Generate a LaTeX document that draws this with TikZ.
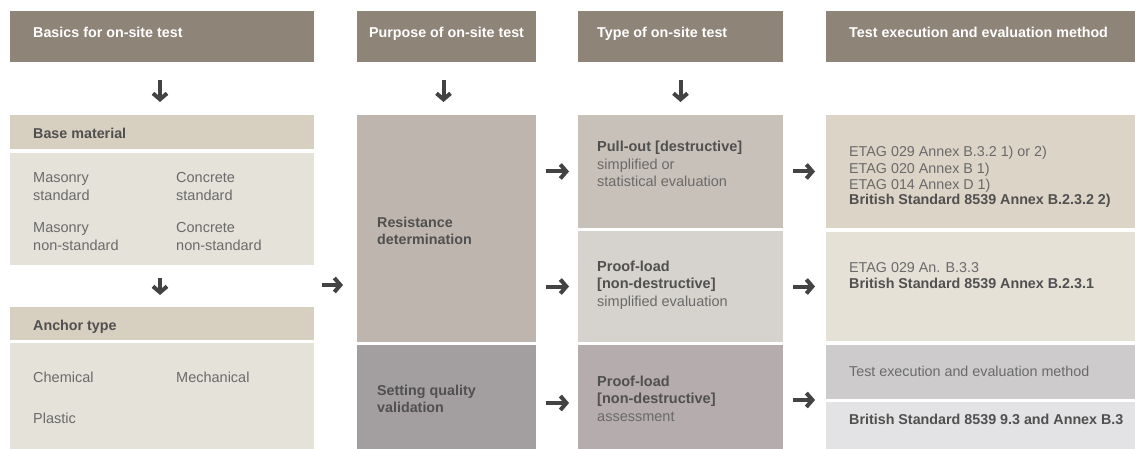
\documentclass[tikz,border=0pt]{standalone}
\usepackage{fontspec}
\setmainfont{Liberation Sans}
\usetikzlibrary{arrows.meta}
\definecolor{hdrc}{HTML}{8E8478}
\definecolor{sandc}{HTML}{D7CFC0}
\definecolor{palec}{HTML}{E5E2DA}
\definecolor{resc}{HTML}{BDB5AE}
\definecolor{sqc}{HTML}{A39EA0}
\definecolor{pullc}{HTML}{C8C1B9}
\definecolor{plac}{HTML}{D6D3CE}
\definecolor{plbc}{HTML}{B4ACAD}
\definecolor{eac}{HTML}{DCD4C7}
\definecolor{ebc}{HTML}{E5E1D7}
\definecolor{ecc}{HTML}{CDCBCB}
\definecolor{edc}{HTML}{E3E2E4}
\definecolor{txtc}{HTML}{6A6A6A}
\definecolor{boldc}{HTML}{505050}
\definecolor{arrc}{HTML}{434343}
\begin{document}
\begin{tikzpicture}[x=1pt,y=-1pt,
  cell/.style={rectangle, inner sep=0pt, outer sep=0pt, anchor=north west, draw=none},
  hd/.style={anchor=base west, inner sep=0pt, font=\bfseries\fontsize{14.3}{17}\selectfont, text=white},
  tx/.style={anchor=base west, inner sep=0pt, font=\fontsize{14.5}{17.5}\selectfont, text=txtc, align=left},
  tb/.style={tx, font=\bfseries\fontsize{14.3}{17.5}\selectfont, text=boldc},
  te/.style={tx, font=\fontsize{14.3}{16}\selectfont},
  arr/.style={draw=arrc, line width=4pt, -{Straight Barb[length=6pt,width=14pt]}},
]
\useasboundingbox (0,0) rectangle (1135,449);
\fill[white] (0,0) rectangle (1135,449);

% headers
\node[cell, fill=hdrc, minimum width=304pt, minimum height=51pt] (h1) at (10,11) {};
\node[cell, fill=hdrc, minimum width=179pt, minimum height=51pt] (h2) at (357,11) {};
\node[cell, fill=hdrc, minimum width=205pt, minimum height=51pt] (h3) at (578,11) {};
\node[cell, fill=hdrc, minimum width=309pt, minimum height=51pt] (h4) at (826,11) {};
\node[hd] (h1t) at (33,38) {Basics for on-site test};
\node[hd, anchor=base] (h2t) at (446.5,38) {Purpose of on-site test};
\node[hd] (h3t) at (597,38) {Type of on-site test};
\node[hd] (h4t) at (849,38) {Test execution and evaluation method};

% column 1
\node[cell, fill=sandc, minimum width=304pt, minimum height=34pt] (bmh) at (10,115) {};
\node[cell, fill=palec, minimum width=304pt, minimum height=112pt] (bmb) at (10,153) {};
\node[cell, fill=sandc, minimum width=304pt, minimum height=33pt] (ath) at (10,307) {};
\node[cell, fill=palec, minimum width=304pt, minimum height=106pt] (atb) at (10,343) {};
\node[tb] (bmht) at (33,139) {Base material};
\node[tx] (ms) at (33,200.5) {Masonry\\standard};
\node[tx] (cs) at (176,200.5) {Concrete\\standard};
\node[tx] (mn) at (33,250.5) {Masonry\\non-standard};
\node[tx] (cn) at (176,250.5) {Concrete\\non-standard};
\node[tb] (atht) at (33,330) {Anchor type};
\node[tx] (chem) at (33,382) {Chemical};
\node[tx] (mech) at (176,382) {Mechanical};
\node[tx] (plas) at (33,423) {Plastic};

% column 2
\node[cell, fill=resc, minimum width=179pt, minimum height=227pt] (res) at (357,115) {};
\node[cell, fill=sqc, minimum width=179pt, minimum height=104pt] (sq) at (357,345) {};
\node[tb] (rest) at (377,244.5) {Resistance\\determination};
\node[tb] (sqt) at (377,412.5) {Setting quality\\validation};

% column 3
\node[cell, fill=pullc, minimum width=205pt, minimum height=113pt] (pull) at (578,115) {};
\node[cell, fill=plac, minimum width=205pt, minimum height=111pt] (pl1) at (578,231) {};
\node[cell, fill=plbc, minimum width=205pt, minimum height=104pt] (pl2) at (578,345) {};
\node[tx] (pullt) at (597,187) {\textbf{\color{boldc}Pull-out [destructive]}\\simplified or\\statistical evaluation};
\node[tx] (pl1t) at (597,306) {\textbf{\color{boldc}Proof-load}\\\textbf{\color{boldc}[non-destructive]}\\simplified evaluation};
\node[tx] (pl2t) at (597,421) {\textbf{\color{boldc}Proof-load}\\\textbf{\color{boldc}[non-destructive]}\\assessment};

% column 4
\node[cell, fill=eac, minimum width=309pt, minimum height=113pt] (e1) at (826,115) {};
\node[cell, fill=ebc, minimum width=309pt, minimum height=109pt] (e2) at (826,232) {};
\node[cell, fill=ecc, minimum width=309pt, minimum height=54pt] (e3) at (826,345) {};
\node[cell, fill=edc, minimum width=309pt, minimum height=47pt] (e4) at (826,402) {};
\node[te] (e1t) at (849,205) {ETAG 029 Annex B.3.2 1) or 2)\\ETAG 020 Annex B 1)\\ETAG 014 Annex D 1)\\\textbf{\color{boldc}British Standard 8539 Annex B.2.3.2 2)}};
\node[te] (e2t) at (849,288) {ETAG 029 An. B.3.3\\\textbf{\color{boldc}British Standard 8539 Annex B.2.3.1}};
\node[te] (e3t) at (849,376) {Test execution and evaluation method};
\node[te, font=\bfseries\fontsize{14.3}{16}\selectfont, text=boldc] (e4t) at (849,424) {British Standard 8539 9.3 and Annex B.3};

% vertical arrows
\draw[arr, shorten <=18pt, shorten >=13pt] ([xshift=-2pt]h1.south) -- ([xshift=-2pt]bmh.north);
\draw[arr, shorten <=13pt, shorten >=12pt] ([xshift=-2pt]bmb.south) -- ([xshift=-2pt]ath.north);
\draw[arr, shorten <=18pt, shorten >=13pt] ([xshift=-3pt]h2.south) -- ([xshift=-3pt]res.north);
\draw[arr, shorten <=18pt, shorten >=13pt] (h3.south) -- (pull.north);

% horizontal arrows
\coordinate (c12) at (314,285);
\draw[arr, shorten <=8pt, shorten >=14pt] (c12) -- (c12 -| res.west);
\draw[arr, shorten <=10pt, shorten >=9pt] (pull.west -| res.east) -- (pull.west);
\draw[arr, shorten <=10pt, shorten >=9pt] (pl1.west -| res.east) -- (pl1.west);
\draw[arr, shorten <=10pt, shorten >=9pt] ([yshift=-6pt]sq.east) -- ([yshift=-6pt]pl2.west);
\draw[arr, shorten <=10pt, shorten >=11pt] (pull.east) -- (pull.east -| e1.west);
\draw[arr, shorten <=10pt, shorten >=11pt] (pl1.east) -- (pl1.east -| e2.west);
\draw[arr, shorten <=10pt, shorten >=11pt] ([yshift=-3pt]pl2.east) -- ([yshift=-3pt]pl2.east -| e3.west);
\end{tikzpicture}
\end{document}
